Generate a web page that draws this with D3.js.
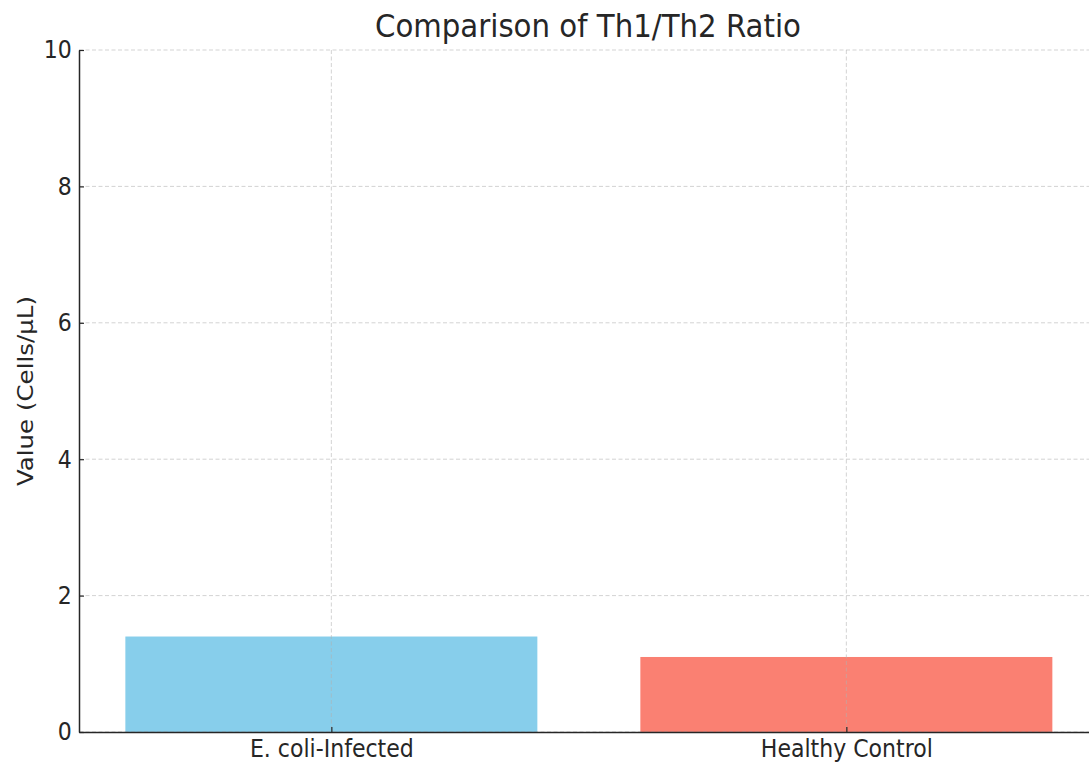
<!DOCTYPE html>
<html>
<head>
<meta charset="utf-8">
<script src="https://cdn.jsdelivr.net/npm/d3@7"></script>
<style>
    body { margin: 0; background: #fff; }
    svg { display: block; font-family: 'DejaVu Sans', sans-serif; }
</style>
</head>
<body>
<div id="chart"></div>
<script>
const groups = ['E. coli-Infected', 'Healthy Control']
const values = [1.4, 1.1]
const colors = ['#87ceeb', '#fa8072']
const yTicks = [0, 2, 4, 6, 8, 10]

drawBars()
function drawBars() {
    let dim = {
        width: 1089,
        height: 765,
        margin: { top: 50, left: 79, bottom: 33 }
    }
    dim.boundedHeight = dim.height - dim.margin.top - dim.margin.bottom
    // the picture is a bit squeezed sideways, so text gets squeezed too
    const squeeze = .9
    const textColor = '#262626'
    // category spacing in px, matplotlib-like limits of -0.49..1.49
    const step = 515
    const xScale = d3.scaleLinear()
        .domain([-0.49, 1.49])
        .range([0, step * 1.98])
    const yScale = d3.scaleLinear()
        .domain([0, 10])
        .range([dim.boundedHeight, 0])

    const wrapper = d3.select('#chart')
        .append('svg')
        .attr('width', dim.width)
        .attr('height', dim.height)
    const bounds = wrapper.append('g')
        .attr('transform', `translate(${dim.margin.left},${dim.margin.top})`)

    // bars
    bounds.selectAll('.bar').data(values).join('rect')
        .attr('x', (d, i) => xScale(i - 0.4))
        .attr('width', xScale(0.4) - xScale(-0.4))
        .attr('y', d => yScale(d))
        .attr('height', d => dim.boundedHeight - yScale(d))
        .attr('fill', (d, i) => colors[i])

    // grid
    const grid = bounds.append('g')
        .attr('stroke', '#b0b0b0').attr('stroke-opacity', .7)
        .attr('stroke-dasharray', '4,2.5').attr('stroke-width', .8)
    grid.selectAll('.hgrid').data(yTicks).join('line')
        .attr('x1', 0).attr('x2', xScale.range()[1])
        .attr('y1', d => yScale(d)).attr('y2', d => yScale(d))
    grid.selectAll('.vgrid').data(groups).join('line')
        .attr('x1', (d, i) => xScale(i)).attr('x2', (d, i) => xScale(i))
        .attr('y1', 0).attr('y2', dim.boundedHeight)

    const yAxis = bounds.append('g')
        .call(d3.axisLeft(yScale).tickValues(yTicks).tickSizeInner(-5).tickSizeOuter(0).tickPadding(8))
    const xAxis = bounds.append('g')
        .attr('transform', `translate(0,${dim.boundedHeight})`)
        .call(d3.axisBottom(xScale).tickValues([0, 1]).tickFormat(i => groups[i])
            .tickSizeInner(-5).tickSizeOuter(0).tickPadding(8))
    for (const ax of [xAxis, yAxis]) {
        ax.attr('font-size', null).attr('font-family', null)
        ax.select('.domain').attr('stroke', textColor).attr('stroke-width', 1.5)
        ax.selectAll('.tick line').attr('stroke', textColor).attr('stroke-width', 1.2)
        ax.selectAll('.tick text')
            .style('font-size', '24.5px')
            .attr('fill', textColor)
            .attr('transform', `scale(${squeeze},1)`)
    }

    wrapper.append('text')
        .attr('transform', `translate(588,37) scale(${squeeze},1)`)
        .attr('text-anchor', 'middle')
        .style('font-size', '32.5px').attr('fill', textColor)
        .text('Comparison of Th1/Th2 Ratio')

    wrapper.append('text')
        .attr('transform', `translate(33,${dim.margin.top + yScale(5)}) scale(${squeeze},1) rotate(-90)`)
        .attr('text-anchor', 'middle')
        .style('font-size', '24.5px').attr('fill', textColor)
        .text('Value (Cells/μL)')
}
</script>
</body>
</html>
